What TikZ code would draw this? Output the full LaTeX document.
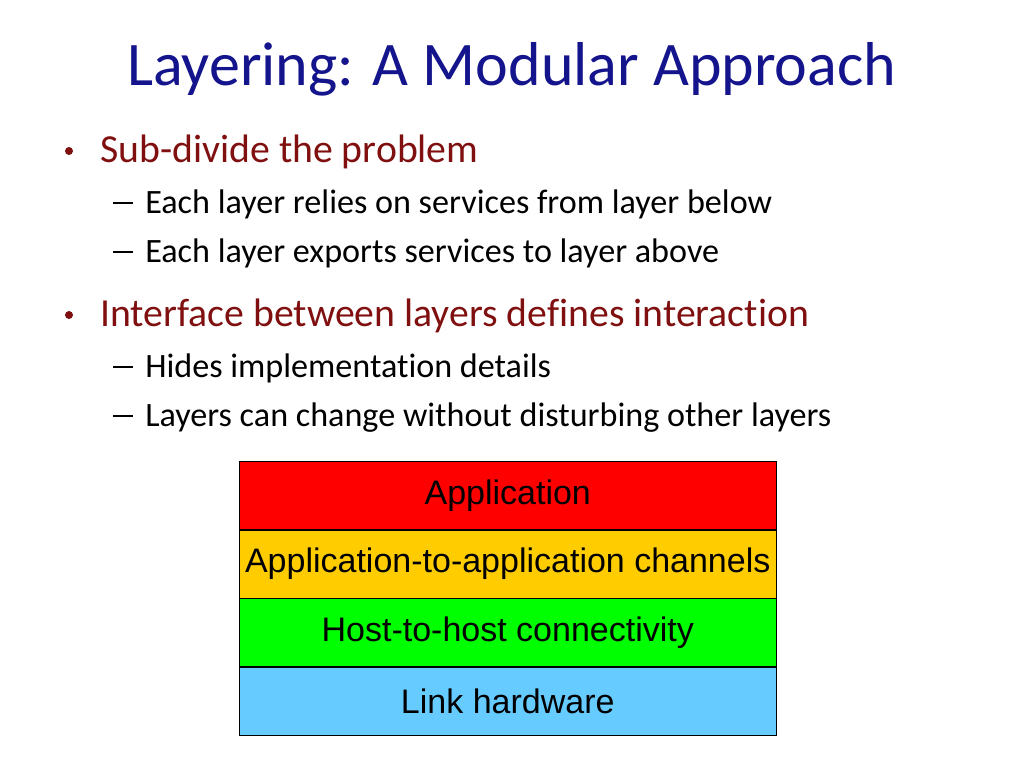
\documentclass[tikz,border=0pt]{standalone}
\usepackage{fontspec}
\setmainfont[Ligatures=NoCommon]{Carlito}
\newfontfamily\boxfont{Liberation Sans}
\usetikzlibrary{positioning}
\definecolor{titleblue}{RGB}{20,20,140}
\definecolor{bulletred}{RGB}{128,16,16}
\definecolor{appred}{RGB}{255,0,0}
\definecolor{chanyellow}{RGB}{255,204,0}
\definecolor{hostgreen}{RGB}{0,255,0}
\definecolor{linkblue}{RGB}{102,204,255}

\begin{document}
\begin{tikzpicture}[
        x=0.75pt, y=-0.75pt,
        node distance=0pt,
        title/.style={anchor=base west, inner sep=0pt, font=\fontsize{46.5}{54}\selectfont, text=titleblue},
        main/.style={anchor=base west, inner sep=0pt, font=\fontsize{29.8}{34}\selectfont, text=bulletred},
        sub/.style={anchor=base west, inner sep=0pt, font=\fontsize{25.6}{30}\selectfont},
        dot/.style={circle, fill=bulletred, inner sep=0pt, minimum size=6pt},
        subdash/.style={draw, line width=1.2pt},
        layer/.style={rectangle, draw, minimum width=402.75pt, minimum height=51pt, inner sep=0pt, font=\boxfont\fontsize{25.5}{30}\selectfont}
    ]
        \useasboundingbox (0,0) rectangle (1024,768);
        \node[title] (ttl) at (127,85) {Layering: A Modular Approach};

        \node[dot] (d1) at (69,151) {};
        \node[main] (b1) at (100,162) {Sub-divide the problem};
        \coordinate (e1) at (113,203); \draw[subdash] (e1) -- ++(20,0);
        \node[sub] (s1) at (145,213) {Each layer relies on services from layer below};
        \coordinate (e2) at (113,252); \draw[subdash] (e2) -- ++(20,0);
        \node[sub] (s2) at (145,262) {Each layer exports services to layer above};
        \node[dot] (d2) at (69,315) {};
        \node[main] (b2) at (100,326) {Interface between layers defines interaction};
        \coordinate (e3) at (113,367); \draw[subdash] (e3) -- ++(20,0);
        \node[sub] (s3) at (145,377) {Hides implementation details};
        \coordinate (e4) at (113,416); \draw[subdash] (e4) -- ++(20,0);
        \node[sub] (s4) at (145,426) {Layers can change without disturbing other layers};

        \node[layer, fill=appred, anchor=north west] (app) at (239,461) {Application};
        \node[layer, fill=chanyellow, below=of app] (chan) {Application-to-application channels};
        \node[layer, fill=hostgreen, below=of chan] (host) {Host-to-host connectivity};
        \node[layer, fill=linkblue, below=of host] (link) {Link hardware};
    \end{tikzpicture}
\end{document}
